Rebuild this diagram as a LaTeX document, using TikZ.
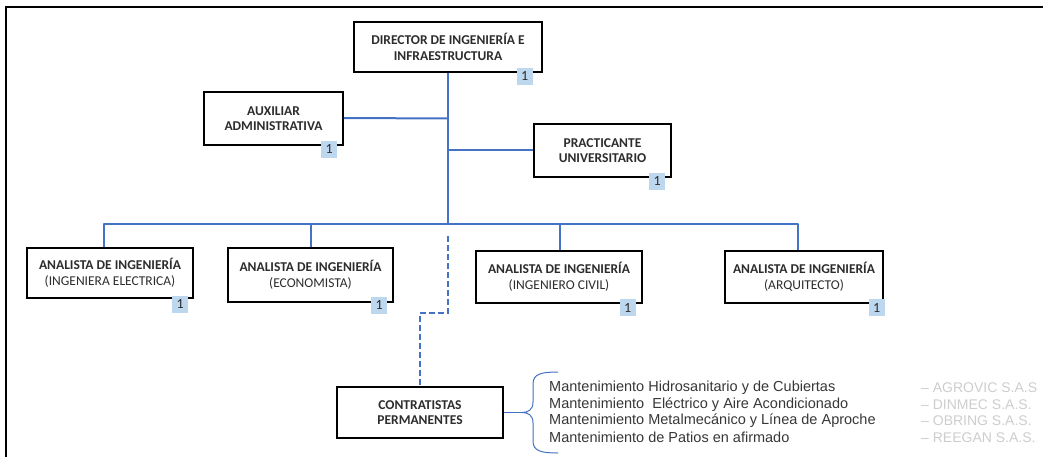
\documentclass[tikz,border=0pt]{standalone}
\usepackage{fontspec}
\setmainfont{Carlito}
\newfontfamily\listfont{Liberation Sans}
\usetikzlibrary{calc}
\definecolor{lineblue}{RGB}{68,114,196}
\definecolor{badgeblue}{RGB}{189,215,238}
\definecolor{txtgray}{RGB}{45,45,45}
\definecolor{listgray}{RGB}{55,55,55}
\definecolor{compgray}{RGB}{205,205,205}
\begin{document}
\begin{tikzpicture}[x=1pt,y=-1pt,
  box/.style={draw=black, line width=1.5pt, fill=white, align=center, inner sep=0pt, text=txtgray, font=\fontsize{13.5}{15.5}\selectfont},
  badge/.style={fill=badgeblue, minimum width=16pt, minimum height=17pt, inner sep=0pt, font=\fontsize{14}{14}\selectfont, text=txtgray},
  conn/.style={draw=lineblue, line width=2pt},
  dashconn/.style={draw=lineblue, line width=2pt, dash pattern=on 6pt off 3pt},
  bracestyle/.style={draw=lineblue, line width=1pt},
  listtext/.style={anchor=west, inner sep=0pt, font=\listfont\fontsize{14.5}{15}\selectfont, text=listgray},
  comptext/.style={anchor=west, inner sep=0pt, font=\listfont\fontsize{14}{15}\selectfont, text=compgray}
]
\useasboundingbox (0,0) rectangle (1043,457);
% frame
\draw[line width=2pt] (6,457) -- (6,7) -- (1043,7);

% nodes
\node[box, minimum width=188pt, minimum height=50pt] (dir) at (448,47) {\bfseries DIRECTOR DE INGENIERÍA E\\\bfseries INFRAESTRUCTURA};
\node[box, minimum width=139pt, minimum height=53pt] (aux) at (273.5,118.5) {\bfseries AUXILIAR\\\bfseries ADMINISTRATIVA};
\node[box, minimum width=137pt, minimum height=53pt] (prac) at (602.5,150.5) {\bfseries PRACTICANTE\\\bfseries UNIVERSITARIO};
\node[box, minimum width=166pt, minimum height=50pt] (a1) at (110,273) {\bfseries ANALISTA DE INGENIERÍA\\(INGENIERA ELECTRICA)};
\node[box, minimum width=165pt, minimum height=54pt] (a2) at (310.5,275) {\bfseries ANALISTA DE INGENIERÍA\\(ECONOMISTA)};
\node[box, minimum width=166pt, minimum height=52pt] (a3) at (559,277) {\bfseries ANALISTA DE INGENIERÍA\\(INGENIERO CIVIL)};
\node[box, minimum width=158pt, minimum height=52pt] (a4) at (804,277) {\bfseries ANALISTA DE INGENIERÍA\\(ARQUITECTO)};
\node[box, minimum width=166pt, minimum height=51pt] (cont) at (420,412.5) {\bfseries CONTRATISTAS\\\bfseries PERMANENTES};

% badges
\node[badge] (bdir) at ([xshift=-18pt,yshift=-3.5pt]dir.south east) {1};
\node[badge] (baux) at ([xshift=-14.5pt,yshift=-3.5pt]aux.south east) {1};
\node[badge] (bprac) at ([xshift=-14.5pt,yshift=-3.5pt]prac.south east) {1};
\node[badge] (ba1) at ([xshift=-13.5pt,yshift=-5.5pt]a1.south east) {1};
\node[badge] (ba2) at ([xshift=-14.5pt,yshift=-2.5pt]a2.south east) {1};
\node[badge] (ba3) at ([xshift=-15pt,yshift=-4pt]a3.south east) {1};
\node[badge] (ba4) at ([xshift=-7pt,yshift=-4pt]a4.south east) {1};

% connectors
\coordinate (bar) at (448,224);
\coordinate (b1) at (104,224);
\coordinate (b2) at (311,224);
\coordinate (b3) at (560,224);
\coordinate (b4) at (798,224);
\draw[conn] (dir.south) -- (bar);
\draw[conn] (aux.east |- 448,118) -- (dir.south |- aux.east);
\draw[conn] (dir.south |- prac.west) -- (prac.west);
\draw[conn, line join=round] (b1 |- a1.north) -- (b1) -- (b4) -- (b4 |- a4.north);
\draw[conn] (b2) -- (b2 |- a2.north);
\draw[conn] (b3) -- (b3 |- a3.north);
\coordinate (dstart) at (448,236);
\draw[dashconn] (dstart) -- ++(0,77) -| (cont.north);

% brace
\coordinate (tip) at (522,412.5);
\draw[bracestyle] (558,372) .. controls (541,372) and (533,374) .. (533,384) -- (533,402)
  .. controls (533,410) and (528,412.5) .. (tip)
  .. controls (528,412.5) and (533,415) .. (533,423) -- (533,441)
  .. controls (533,451) and (541,453) .. (558,453);
\draw[bracestyle] (cont.east) -- (tip);

% list
\node[listtext] (l1) at (549,388) {Mantenimiento Hidrosanitario y de Cubiertas};
\node[listtext] (l2) at (549,404.5) {Mantenimiento\ \ Eléctrico y Aire Acondicionado};
\node[listtext] (l3) at (549,421) {Mantenimiento Metalmecánico y Línea de Aproche};
\node[listtext] (l4) at (549,437.5) {Mantenimiento de Patios en afirmado};
\node[comptext] (c1) at (921,388) {– AGROVIC S.A.S};
\node[comptext] (c2) at (921,404.5) {– DINMEC S.A.S.};
\node[comptext] (c3) at (921,421) {– OBRING S.A.S.};
\node[comptext] (c4) at (921,437.5) {– REEGAN S.A.S.};
\end{tikzpicture}
\end{document}
